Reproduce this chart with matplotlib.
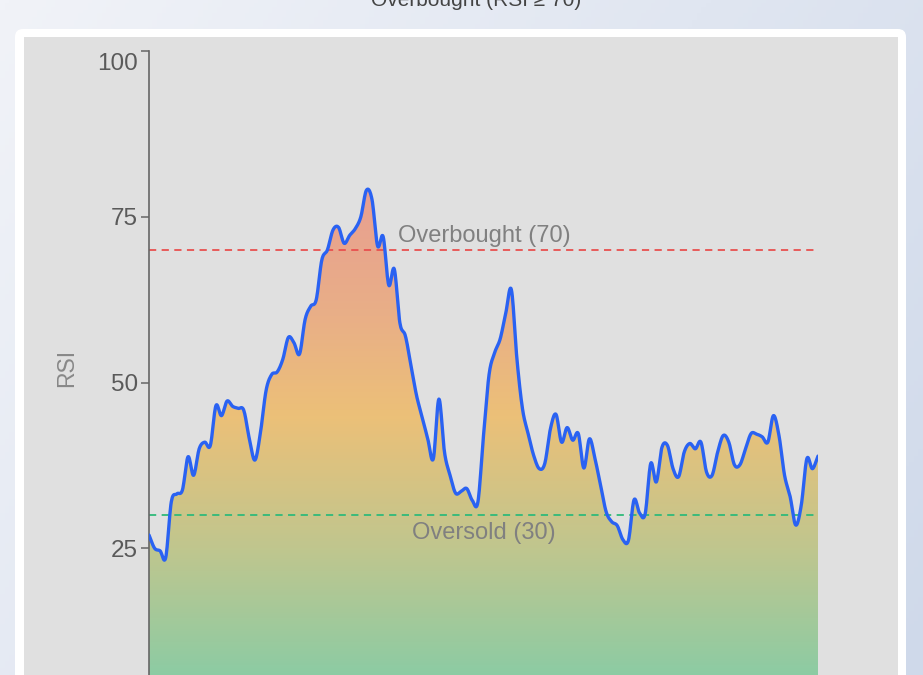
import numpy as np
import matplotlib
matplotlib.use("Agg")
import matplotlib.pyplot as plt
from matplotlib.colors import LinearSegmentedColormap
from matplotlib.patches import FancyBboxPatch, Rectangle
from matplotlib.transforms import ScaledTranslation

plt.rcParams['font.family'] = ['Liberation Sans', 'DejaVu Sans']

# RSI readings, one per day
days = np.arange(121)
rsi = [
    27.0, 25.0, 24.6, 23.6, 32.0, 33.2, 33.8, 38.8, 36.0, 40.0,
    41.0, 40.5, 46.5, 45.0, 47.2, 46.4, 46.1, 45.8, 41.5, 38.3,
    42.5, 48.8, 51.2, 51.6, 53.5, 56.8, 56.0, 54.3, 59.5, 61.5,
    62.5, 68.5, 70.0, 73.0, 73.4, 71.0, 72.2, 73.2, 75.0, 79.0,
    77.6, 70.6, 72.0, 64.7, 67.1, 59.0, 57.0, 52.5, 48.0, 44.8,
    41.5, 38.5, 47.5, 39.5, 36.0, 33.3, 33.6, 34.0, 32.2, 32.0,
    42.0, 51.2, 54.5, 56.6, 60.5, 64.0, 53.5, 46.0, 42.3, 39.0,
    37.0, 37.8, 43.0, 45.2, 41.0, 43.2, 41.3, 42.3, 37.1, 41.5,
    38.5, 34.5, 30.5, 29.0, 28.4, 26.3, 26.2, 32.3, 30.3, 30.2,
    37.8, 35.0, 40.2, 40.5, 37.0, 35.8, 39.5, 40.8, 40.0, 41.0,
    36.5, 36.0, 39.5, 42.0, 41.0, 37.6, 37.6, 40.0, 42.3, 42.2,
    41.8, 41.0, 45.0, 42.0, 36.0, 32.8, 28.5, 31.5, 38.5, 37.0,
    38.9,
]
overbought = 70
oversold = 30
yticks = [25, 50, 75, 100]


def spline(x, y, steps=12):
    # Catmull-Rom smoothing through the data points
    x = np.asarray(x, float)
    y = np.asarray(y, float)
    px = np.concatenate([[2 * x[0] - x[1]], x, [2 * x[-1] - x[-2]]])
    py = np.concatenate([[2 * y[0] - y[1]], y, [2 * y[-1] - y[-2]]])
    t = np.linspace(0, 1, steps, endpoint=False)
    xs, ys = [], []
    for i in range(1, len(px) - 2):
        for p, out in ((px, xs), (py, ys)):
            p0, p1, p2, p3 = p[i - 1], p[i], p[i + 1], p[i + 2]
            out.extend(0.5 * (2 * p1 + (-p0 + p2) * t
                              + (2 * p0 - 5 * p1 + 4 * p2 - p3) * t ** 2
                              + (-p0 + 3 * p1 - 3 * p2 + p3) * t ** 3))
    xs.append(x[-1])
    ys.append(y[-1])
    return np.array(xs), np.array(ys)


W, H = 923, 675
fig = plt.figure(figsize=(W / 100, H / 100), dpi=100)

# page background + card
bg = fig.add_axes([0, 0, 1, 1])
bg.set_xlim(0, W)
bg.set_ylim(H, 0)
bg.axis('off')
gx, gy = np.meshgrid(np.linspace(0, 1, 200), np.linspace(0, 1, 200))
bg_cmap = LinearSegmentedColormap.from_list('bg', ['#f1f3f8', '#cfd9ea'])
bg.imshow(gx * 0.65 + gy * 0.35, cmap=bg_cmap, extent=[0, W, H, 0], aspect='auto', zorder=0)
bg.add_patch(FancyBboxPatch((15, 29), 891, 700, boxstyle='round,pad=0,rounding_size=8',
                            fc='white', ec='none', zorder=1))
bg.add_patch(Rectangle((24, 37), 874, 700, fc='#e0e0e0', ec='none', zorder=2))
bg.text(476, 6, 'Overbought (RSI \u2265 70)', ha='center', va='baseline',
        fontsize=15, color='#444444', zorder=3)

# main axes, bottom runs past the frame (0 is below the image edge)
ax = fig.add_axes([149 / W, (H - 714) / H, (818 - 149) / W, (714 - 51) / H])
ax.patch.set_alpha(0)
ax.set_xlim(0, 120)
ax.set_ylim(0, 100)

sx, sy = spline(days, rsi)
poly_x = np.concatenate([sx, [sx[-1], sx[0]]])
poly_y = np.concatenate([sy, [0, 0]])
fill, = ax.fill(poly_x, poly_y, fc='none', ec='none')

grad_cmap = LinearSegmentedColormap.from_list('rsi', [
    (0.00, (125 / 255, 205 / 255, 170 / 255)),
    (0.25, (192 / 255, 198 / 255, 142 / 255)),
    (0.45, (236 / 255, 192 / 255, 120 / 255)),
    (0.60, (233 / 255, 175 / 255, 135 / 255)),
    (0.80, (232 / 255, 158 / 255, 145 / 255)),
    (1.00, (230 / 255, 140 / 255, 150 / 255)),
])
grad = np.linspace(0, 1, 256).reshape(-1, 1)
im = ax.imshow(grad, cmap=grad_cmap, extent=[0, 120, 0, 100], origin='lower',
               aspect='auto', zorder=1)
im.set_clip_path(fill)

ax.axhline(overbought, xmax=0.995, color='#e8504f', lw=1.3, ls=(0, (4, 3)), zorder=2)
ax.axhline(oversold, xmax=0.995, color='#2fba7a', lw=1.3, ls=(0, (4, 3)), zorder=2)
ax.plot(sx, sy, color='#2a62f2', lw=2.4, solid_capstyle='round', zorder=3)

ax.text(60.1, overbought + 0.4, 'Overbought (70)', ha='center', va='bottom',
        fontsize=17, color='#808080')
ax.text(60.1, oversold - 1.0, 'Oversold (30)', ha='center', va='top',
        fontsize=17, color='#808080')

for s in ['top', 'right', 'bottom']:
    ax.spines[s].set_visible(False)
ax.spines['left'].set_color('#666666')
ax.spines['left'].set_linewidth(1.2)
ax.set_xticks([])
ax.set_yticks(yticks)
ax.tick_params(axis='y', length=6, width=1.1, color='#666666', labelcolor='#5a5a5a',
               labelsize=17.5, pad=2)
top_label = ax.get_yticklabels()[-1]
top_label.set_transform(top_label.get_transform() + ScaledTranslation(0, -11 / 100, fig.dpi_scale_trans))
ax.set_ylabel('RSI', fontsize=16.5, color='#888888')
ax.yaxis.set_label_coords((78 - 149) / (818 - 149), (714 - 368) / (714 - 51))

fig.savefig('out.png', dpi=100)
